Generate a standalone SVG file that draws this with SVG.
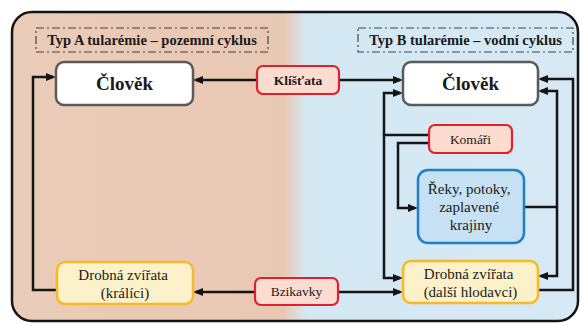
<svg xmlns="http://www.w3.org/2000/svg" width="582" height="324" viewBox="0 0 582 324">
<defs>
<linearGradient id="bg" gradientUnits="userSpaceOnUse" x1="12" y1="0" x2="578" y2="0">
<stop offset="0" stop-color="#ebccb9"/>
<stop offset="0.48" stop-color="#e9c8b3"/>
<stop offset="0.52" stop-color="#d4e8f4"/>
<stop offset="1" stop-color="#d6e9f5"/>
</linearGradient>
<marker id="ah" markerUnits="userSpaceOnUse" markerWidth="10" markerHeight="8" viewBox="0 0 10 8" refX="7" refY="4" orient="auto">
<path d="M0,0 L10,4 L0,8 z" fill="#151515"/>
</marker>
</defs>
<style>
.tbox{fill:none;stroke:#444;stroke-width:1.2;stroke-dasharray:8 3 2 3}
.human{fill:#ffffff;stroke:#5a5a5a;stroke-width:2.5}
.vec{fill:#fcdcd0;stroke:#e0202a;stroke-width:2.2}
.anim{fill:#fdf1c9;stroke:#f6b928;stroke-width:2.5}
.water{fill:#c5e1f3;stroke:#1f7fc8;stroke-width:2.5}
.con{fill:none;stroke:#151515;stroke-width:2.5}
.arr{marker-end:url(#ah)}
</style>
<g id="background">
<rect x="12" y="12" width="566" height="309" rx="20" fill="url(#bg)" stroke="#151515" stroke-width="2.5"/>
</g>
<g id="titleA">
<rect class="tbox" x="36" y="28" width="232" height="24"/>
<text x="152" y="45" font-family="Liberation Serif, serif" font-size="14.5" font-weight="bold" text-anchor="middle" fill="#1a1a1a">Typ A tularémie – pozemní cyklus</text>
</g>
<g id="titleB">
<rect class="tbox" x="358" y="28" width="215" height="24"/>
<text x="465.5" y="45" font-family="Liberation Serif, serif" font-size="14.5" font-weight="bold" text-anchor="middle" fill="#1a1a1a">Typ B tularémie – vodní cyklus</text>
</g>
<g id="connectors">
<path class="con arr" d="M257,80 H196"/>
<path class="con arr" d="M339,80 H400"/>
<path class="con arr" d="M57,290 H33 V77 H53"/>
<path class="con arr" d="M255,292 H196"/>
<path class="con arr" d="M338,292 H400"/>
<path class="con arr" d="M429,135 H384 V93 H400"/>
<path class="con arr" d="M384,135 V278 H400"/>
<path class="con arr" d="M429,143 H398 V208 H415"/>
<path class="con" d="M524,207 H557"/>
<path class="con arr" d="M557,207 V91 H541"/>
<path class="con arr" d="M557,207 V276 H541"/>
<path class="con arr" d="M538,290 H573 V79 H541"/>
</g>
<g id="clovekA">
<rect class="human" x="56" y="62" width="137" height="43" rx="8"/>
<text x="124.5" y="90" font-family="Liberation Serif, serif" font-size="19" font-weight="bold" text-anchor="middle" fill="#1a1a1a">Člověk</text>
</g>
<g id="clovekB">
<rect class="human" x="403" y="62" width="135" height="43" rx="8"/>
<text x="470.5" y="90" font-family="Liberation Serif, serif" font-size="19" font-weight="bold" text-anchor="middle" fill="#1a1a1a">Člověk</text>
</g>
<g id="klistata">
<rect class="vec" x="257" y="66" width="82" height="28" rx="6"/>
<text x="298" y="85" font-family="Liberation Serif, serif" font-size="13.5" font-weight="bold" text-anchor="middle" fill="#1a1a1a">Klíšťata</text>
</g>
<g id="komari">
<rect class="vec" x="429" y="125" width="83" height="28" rx="6"/>
<text x="470.5" y="144" font-family="Liberation Serif, serif" font-size="13.5" text-anchor="middle" fill="#1a1a1a">Komáři</text>
</g>
<g id="reky">
<rect class="water" x="418" y="170" width="106" height="73" rx="10"/>
<text font-family="Liberation Serif, serif" font-size="15" text-anchor="middle" fill="#1a1a1a">
<tspan x="471" y="194">Řeky, potoky,</tspan>
<tspan x="471" y="212">zaplavené</tspan>
<tspan x="471" y="230">krajiny</tspan>
</text>
</g>
<g id="drobnaA">
<rect class="anim" x="57" y="262" width="136" height="42" rx="8"/>
<text font-family="Liberation Serif, serif" font-size="15" text-anchor="middle" fill="#1a1a1a">
<tspan x="125" y="280">Drobná  zvířata</tspan>
<tspan x="125" y="298">(králíci)</tspan>
</text>
</g>
<g id="bzikavky">
<rect class="vec" x="255" y="278" width="83" height="27" rx="6"/>
<text x="296.5" y="296" font-family="Liberation Serif, serif" font-size="13.5" text-anchor="middle" fill="#1a1a1a">Bzikavky</text>
</g>
<g id="drobnaB">
<rect class="anim" x="403" y="261" width="135" height="42" rx="8"/>
<text font-family="Liberation Serif, serif" font-size="15" text-anchor="middle" fill="#1a1a1a">
<tspan x="470.5" y="279">Drobná  zvířata</tspan>
<tspan x="470.5" y="297">(další hlodavci)</tspan>
</text>
</g>
</svg>
